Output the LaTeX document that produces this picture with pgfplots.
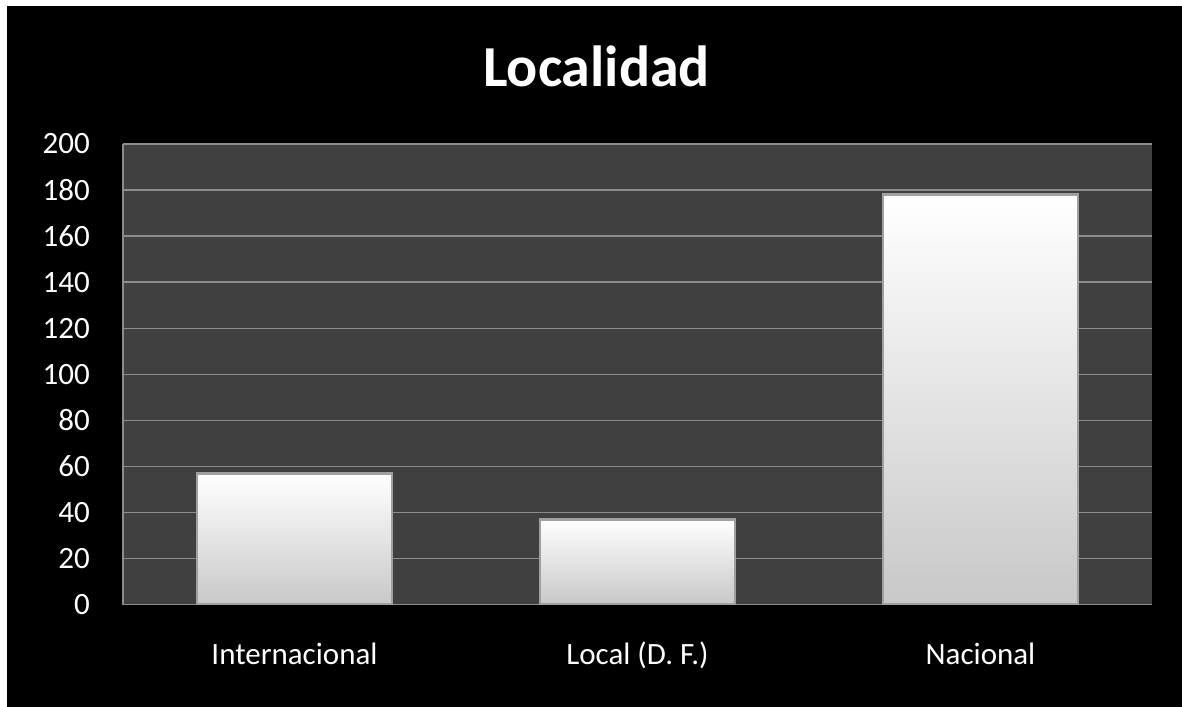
\documentclass[border=0pt]{standalone}
\usepackage{fontspec}
\setmainfont{Carlito}
\usepackage{pgfplots}
\pgfplotsset{compat=1.18}
\definecolor{plotbg}{HTML}{404040}
\definecolor{gridgray}{HTML}{8C8C8C}
\definecolor{barlow}{HTML}{C8C8C8}
\definecolor{baredge}{HTML}{A0A0A0}

\begin{document}
\begin{tikzpicture}[x=1bp,y=1bp]
% frame and black chart area
\fill[white] (0,0) rectangle (1182,707);
\fill[black] (7,0) rectangle (1182,701);
\begin{axis}[
  at={(123bp,102.3bp)}, anchor=south west,
  scale only axis, width=1029bp, height=460.7bp,
  xmin=-0.5, xmax=2.5, ymin=0, ymax=200,
  ytick={0,20,...,200},
  xtick={0,1,2},
  xticklabels={Internacional, Local (D.\ F.), Nacional},
  axis background/.style={fill=plotbg},
  axis x line*=bottom, axis y line*=left,
  axis line style={gridgray, line width=1.5bp, -},
  ymajorgrids, grid style={gridgray, line width=1.5bp},
  major tick length=0pt,
  tick label style={white, font=\fontsize{31bp}{36bp}\selectfont, inner sep=0pt},
  /pgf/number format/assume math mode=true,
  yticklabel style={anchor=east, xshift=-33bp},
  xticklabel style={anchor=base, yshift=-60bp},
  barstyle/.style={ybar, bar width=195bp, draw=baredge, line width=2.5bp,
    top color=white, middle color=white!97!black, bottom color=barlow},
]
% one plot per bar so each bar gets its own gradient
\addplot[barstyle] coordinates {(0,57)};
\addplot[barstyle] coordinates {(1,37)};
\addplot[barstyle] coordinates {(2,178)};
\end{axis}
\node[anchor=base, white, font=\fontsize{58bp}{68bp}\bfseries\selectfont]
  at (596.5,620) {Localidad};
\end{tikzpicture}
\end{document}
